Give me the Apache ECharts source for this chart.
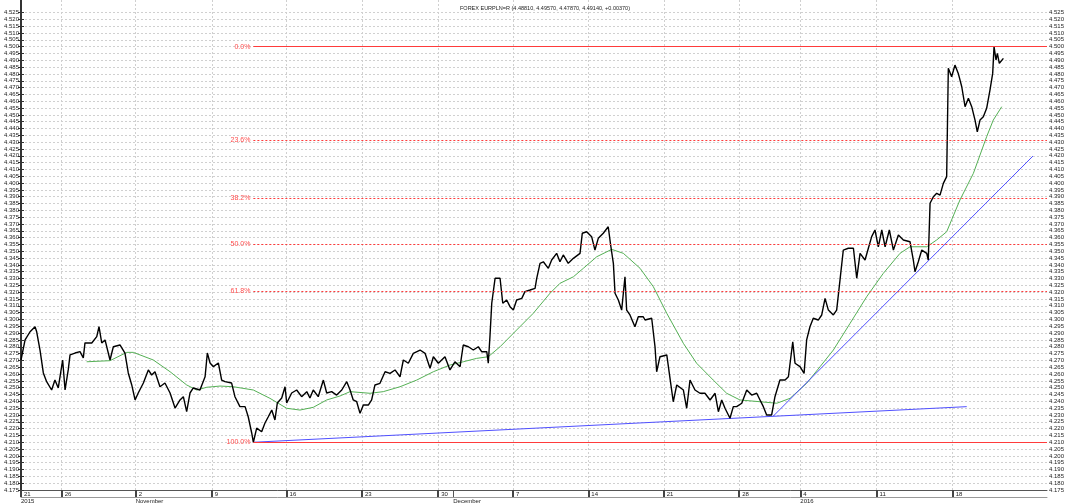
<!DOCTYPE html>
<html>
<head>
<meta charset="utf-8">
<script src="https://cdn.jsdelivr.net/npm/echarts@6/dist/echarts.min.js"></script>
<style>
  html, body { margin: 0; padding: 0; background: #fff; }
  #main { width: 1068px; height: 504px; }
</style>
</head>
<body>
<div id="main"></div>
<script>
// 横轴: 交易日序号 (0 = 10月21日), 纵轴: EURPLN 报价

// 价格曲线 [交易日, 价格]
var priceData = [
    [0, 4.2703], [0.27, 4.2850], [0.60, 4.2910], [0.93, 4.2947], [1.04, 4.2910], [1.26, 4.2776],
    [1.48, 4.2608], [1.70, 4.2544], [2.03, 4.2483], [2.25, 4.2556], [2.47, 4.2498], [2.76, 4.2703],
    [2.92, 4.2483], [3.13, 4.2630], [3.25, 4.2740], [3.58, 4.2754], [3.91, 4.2764], [4.13, 4.2718],
    [4.24, 4.2828], [4.69, 4.2828], [5.02, 4.2874], [5.17, 4.2947], [5.35, 4.2828], [5.57, 4.2850],
    [5.90, 4.2703], [6.12, 4.2800], [6.56, 4.2813], [6.89, 4.2754], [7.11, 4.2608], [7.34, 4.2520],
    [7.56, 4.2410], [7.77, 4.2461], [8.11, 4.2534], [8.44, 4.2630], [8.66, 4.2593], [8.88, 4.2617],
    [9.21, 4.2507], [9.54, 4.2534], [9.88, 4.2461], [10.21, 4.2351], [10.54, 4.2410], [10.76, 4.2434],
    [10.98, 4.2324], [11.20, 4.2461], [11.42, 4.2498], [11.86, 4.2483], [12.20, 4.2580], [12.35, 4.2754],
    [12.53, 4.2681], [12.75, 4.2654], [13.08, 4.2681], [13.30, 4.2556], [13.52, 4.2544], [13.96, 4.2534],
    [14.18, 4.2434], [14.51, 4.2361], [14.85, 4.2361], [15.06, 4.2287], [15.29, 4.2168], [15.40, 4.2100],
    [15.62, 4.2204], [15.95, 4.2177], [16.17, 4.2241], [16.39, 4.2287], [16.62, 4.2336], [16.83, 4.2263],
    [16.99, 4.2388], [17.28, 4.2424], [17.50, 4.2507], [17.61, 4.2388], [17.94, 4.2461], [18.27, 4.2483],
    [18.60, 4.2434], [18.94, 4.2471], [19.15, 4.2424], [19.37, 4.2483], [19.70, 4.2434], [20.04, 4.2556],
    [20.26, 4.2461], [20.59, 4.2471], [20.92, 4.2446], [21.26, 4.2483], [21.59, 4.2544], [21.81, 4.2483],
    [22.02, 4.2410], [22.25, 4.2397], [22.47, 4.2312], [22.69, 4.2373], [23.02, 4.2373], [23.24, 4.2410],
    [23.46, 4.2520], [23.79, 4.2532], [24.13, 4.2617], [24.46, 4.2605], [24.79, 4.2630], [25.12, 4.2580],
    [25.34, 4.2703], [25.67, 4.2679], [26.00, 4.2752], [26.45, 4.2776], [26.78, 4.2752], [27.11, 4.2642],
    [27.33, 4.2727], [27.66, 4.2679], [28.10, 4.2727], [28.43, 4.2630], [28.76, 4.2690], [29.10, 4.2654],
    [29.31, 4.2813], [29.65, 4.2800], [29.98, 4.2776], [30.31, 4.2800], [30.53, 4.2764], [30.87, 4.2764],
    [30.97, 4.2679], [31.08, 4.2874], [31.20, 4.3119], [31.42, 4.3302], [31.75, 4.3302], [31.93, 4.3119],
    [32.19, 4.3143], [32.41, 4.3094], [32.63, 4.3069], [32.85, 4.3143], [33.19, 4.3155], [33.40, 4.3204],
    [33.74, 4.3216], [34.07, 4.3228], [34.18, 4.3302], [34.40, 4.3412], [34.62, 4.3423], [34.95, 4.3375],
    [35.17, 4.3436], [35.50, 4.3485], [35.72, 4.3423], [35.94, 4.3473], [36.27, 4.3412], [36.61, 4.3448],
    [37.05, 4.3485], [37.20, 4.3632], [37.49, 4.3643], [37.82, 4.3607], [38.04, 4.3509], [38.26, 4.3595],
    [38.59, 4.3632], [38.92, 4.3680], [39.08, 4.3546], [39.26, 4.3412], [39.37, 4.3192], [39.59, 4.3143],
    [39.81, 4.3069], [40.03, 4.3313], [40.14, 4.3069], [40.36, 4.3033], [40.69, 4.2947], [40.91, 4.3020],
    [41.24, 4.3020], [41.36, 4.2996], [41.80, 4.3009], [42.02, 4.2800], [42.13, 4.2617], [42.35, 4.2727],
    [42.80, 4.2740], [43.06, 4.2532], [43.23, 4.2397], [43.46, 4.2520], [43.90, 4.2483], [44.12, 4.2349],
    [44.34, 4.2556], [44.67, 4.2483], [45.00, 4.2459], [45.33, 4.2459], [45.67, 4.2410], [46.00, 4.2459],
    [46.22, 4.2324], [46.44, 4.2410], [46.66, 4.2349], [46.99, 4.2276], [47.21, 4.2361], [47.43, 4.2361],
    [47.77, 4.2386], [48.10, 4.2483], [48.43, 4.2446], [48.76, 4.2459], [48.98, 4.2410], [49.20, 4.2361],
    [49.42, 4.2300], [49.75, 4.2300], [49.97, 4.2434], [50.30, 4.2556], [50.64, 4.2556], [50.86, 4.2580],
    [51.15, 4.2837], [51.30, 4.2679], [51.63, 4.2654], [51.90, 4.2605], [52.07, 4.2850], [52.29, 4.2947],
    [52.51, 4.3009], [52.84, 4.2996], [53.07, 4.3033], [53.29, 4.3155], [53.51, 4.3069], [53.84, 4.3033],
    [54.06, 4.3069], [54.28, 4.3289], [54.50, 4.3509], [54.83, 4.3522], [55.17, 4.3522], [55.39, 4.3302],
    [55.61, 4.3485], [55.94, 4.3436], [56.16, 4.3522], [56.38, 4.3607], [56.60, 4.3656], [56.82, 4.3533],
    [57.05, 4.3656], [57.27, 4.3533], [57.55, 4.3656], [57.82, 4.3509], [58.15, 4.3619], [58.48, 4.3583],
    [58.92, 4.3570], [59.14, 4.3436], [59.25, 4.3350], [59.47, 4.3423], [59.70, 4.3509], [60.03, 4.3485],
    [60.13, 4.3436], [60.25, 4.3852], [60.47, 4.3900], [60.69, 4.3925], [60.91, 4.3912], [61.13, 4.3998],
    [61.35, 4.4047], [61.46, 4.4841], [61.68, 4.4779], [61.90, 4.4865], [62.12, 4.4804], [62.35, 4.4706],
    [62.57, 4.4560], [62.79, 4.4621], [63.01, 4.4560], [63.23, 4.4462], [63.38, 4.4376], [63.56, 4.4462],
    [63.78, 4.4486], [64.00, 4.4548], [64.22, 4.4682], [64.40, 4.4804], [64.49, 4.5000], [64.62, 4.4902],
    [64.71, 4.4951], [64.84, 4.4878], [65.11, 4.4914]
];

// 移动平均线
var maData = [
    [4.35, 4.2690], [5.90, 4.2698], [7.01, 4.2759], [7.44, 4.2759], [8.77, 4.2703], [9.88, 4.2617],
    [10.98, 4.2520], [11.65, 4.2483], [12.31, 4.2503], [13.19, 4.2512], [14.07, 4.2507], [15.40, 4.2483],
    [16.50, 4.2422], [17.61, 4.2349], [18.49, 4.2336], [19.37, 4.2356], [20.26, 4.2410], [21.14, 4.2439],
    [21.81, 4.2471], [23.13, 4.2459], [24.01, 4.2471], [25.12, 4.2507], [26.23, 4.2556], [27.33, 4.2617],
    [28.43, 4.2666], [29.31, 4.2690], [30.20, 4.2715], [30.97, 4.2727], [31.75, 4.2800], [32.85, 4.2923],
    [33.95, 4.3045], [35.06, 4.3192], [35.72, 4.3265], [36.61, 4.3313], [37.27, 4.3375], [38.16, 4.3460],
    [39.15, 4.3514], [39.92, 4.3485], [41.03, 4.3375], [41.91, 4.3240], [42.80, 4.3045], [43.90, 4.2825],
    [44.78, 4.2679], [45.88, 4.2556], [46.77, 4.2459], [47.65, 4.2410], [48.98, 4.2397], [50.09, 4.2386],
    [50.97, 4.2422], [52.07, 4.2532], [52.96, 4.2654], [53.84, 4.2776], [54.95, 4.2972], [56.05, 4.3167],
    [57.15, 4.3338], [58.26, 4.3485], [58.92, 4.3533], [60.03, 4.3533], [60.69, 4.3583], [61.35, 4.3643],
    [62.23, 4.3876], [63.12, 4.4071], [64.00, 4.4340], [64.44, 4.4462], [65.00, 4.4560]
];

// 趋势线 (两端点)
var trendLow = [[15.40, 4.2100], [62.68, 4.2361]];
var trendUp = [[49.86, 4.2292], [67.07, 4.4198]];

// 斐波那契回调
var fibHigh = 4.500;
var fibLow = 4.210;
var fibStart = 15.40;
var fibLevels = [0, 23.6, 38.2, 50, 61.8, 100];

// 横轴刻度
var dayTicks = [0, 2.7, 7.6, 12.65, 17.6, 22.6, 27.65, 32.6, 37.6, 42.6, 47.6, 51.65, 56.7, 61.75];
var dayLabels = ['21', '26', '2', '9', '16', '23', '30', '7', '14', '21', '28', '4', '11', '18'];
var monthTicks = [0, 7.6, 28.65, 51.65];
var monthLabels = ['2015', 'November', 'December', '2016'];

// 纵轴刻度 4.175 ~ 4.525, 步长 0.005
var priceTicks = [];
for (var k = 0; k <= 70; k++) {
    priceTicks.push(+(4.175 + k * 0.005).toFixed(3));
}

var titleText = 'FOREX EURPLN=R (4.48810, 4.49570, 4.47870, 4.49140, +0.00370)';

var xMin = 0, xMax = 68;
var yMin = 4.175, yMax = 4.5342;

var FONT = 'Liberation Sans';

function fibMarkData() {
    var d = [];
    for (var i = 0; i < fibLevels.length; i++) {
        var lv = fibLevels[i];
        var price = fibHigh - (fibHigh - fibLow) * lv / 100;
        var solid = (lv === 0 || lv === 100);
        d.push([
            {name: lv.toFixed(1) + '%', coord: [fibStart, price],
             lineStyle: {type: solid ? 'solid' : [2, 2]}},
            {coord: [xMax, price]}
        ]);
    }
    return d;
}

var yAxisBase = {
    type: 'value',
    min: yMin,
    max: yMax,
    axisLine: {show: true, lineStyle: {color: '#333', width: 2}},
    axisTick: {show: true, customValues: priceTicks, length: 3, lineStyle: {color: '#333'}},
    axisLabel: {
        customValues: priceTicks,
        fontSize: 6, fontFamily: FONT, color: '#222', margin: 2,
        formatter: function (v) { return v.toFixed(3); }
    },
    splitLine: {show: true, lineStyle: {color: '#d0d0d0', type: [2, 2]}}
};

var myChart = echarts.init(document.getElementById('main'));

var option = {
    animation: false,
    backgroundColor: '#fff',
    title: {
        text: titleText,
        left: 455, top: 0,
        textStyle: {fontSize: 5.5, fontWeight: 'normal', fontFamily: FONT, color: '#222'}
    },
    grid: {left: 21, right: 21, top: 0, bottom: 14},
    xAxis: [
        {
            type: 'value', min: xMin, max: xMax, position: 'bottom',
            axisLine: {show: true, lineStyle: {color: '#555', width: 1}},
            axisTick: {show: true, customValues: dayTicks, length: 7, lineStyle: {color: '#444', width: 2}},
            axisLabel: {
                customValues: dayTicks, fontSize: 6, fontFamily: FONT, color: '#222',
                align: 'left', margin: 1, padding: [0, 0, 0, 3], showMinLabel: true,
                formatter: function (v) {
                    var i = dayTicks.indexOf(v);
                    return i >= 0 ? dayLabels[i] : '';
                }
            },
            splitLine: {show: true, lineStyle: {color: '#d0d0d0', type: [2, 2]}}
        },
        {
            type: 'value', min: xMin, max: xMax, position: 'bottom', offset: 7,
            axisLine: {show: true, lineStyle: {color: '#999', width: 1}},
            axisTick: {show: true, customValues: [28.65], length: 7, inside: true, lineStyle: {color: '#555'}},
            axisLabel: {
                customValues: monthTicks, fontSize: 6, fontFamily: FONT, color: '#222',
                align: 'left', margin: 1, showMinLabel: true,
                formatter: function (v) {
                    var i = monthTicks.indexOf(v);
                    return i >= 0 ? monthLabels[i] : '';
                }
            },
            splitLine: {show: false}
        }
    ],
    yAxis: [
        Object.assign({}, yAxisBase, {position: 'left'}),
        Object.assign({}, yAxisBase, {position: 'right', splitLine: {show: false}})
    ],
    series: [
        {
            name: 'MA',
            type: 'line',
            data: maData,
            showSymbol: false,
            lineStyle: {color: '#55b055', width: 1},
            z: 3
        },
        {
            name: 'trendLow',
            type: 'line',
            data: trendLow,
            showSymbol: false,
            lineStyle: {color: '#5050ff', width: 1},
            z: 3
        },
        {
            name: 'trendUp',
            type: 'line',
            data: trendUp,
            showSymbol: false,
            lineStyle: {color: '#5050ff', width: 1},
            z: 3
        },
        {
            name: 'EURPLN',
            type: 'line',
            data: priceData,
            showSymbol: false,
            lineStyle: {color: '#000', width: 1.4},
            z: 4,
            markLine: {
                silent: true,
                symbol: ['none', 'none'],
                lineStyle: {color: '#ff3b3b', width: 1},
                label: {
                    show: true, position: 'start', formatter: '{b}', distance: 3,
                    fontSize: 7, fontFamily: FONT, color: '#ff4d4d'
                },
                emphasis: {disabled: true},
                data: fibMarkData()
            }
        }
    ]
};

myChart.setOption(option);
</script>
</body>
</html>
